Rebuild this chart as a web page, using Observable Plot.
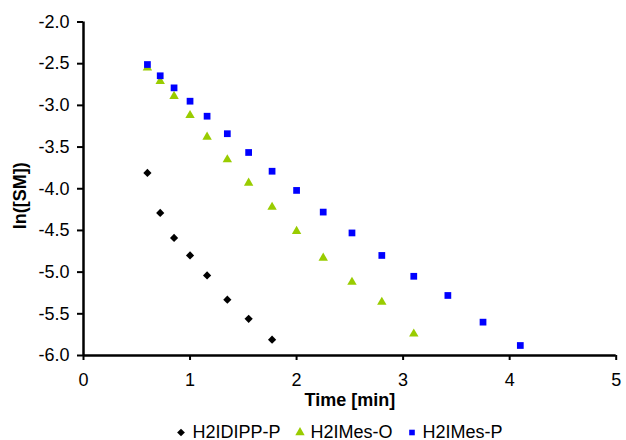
<!DOCTYPE html>
<html>
<head>
<meta charset="utf-8">
<script src="https://cdn.jsdelivr.net/npm/d3@7"></script>
<script src="https://cdn.jsdelivr.net/npm/@observablehq/plot@0.6"></script>
<style>
  html, body { margin: 0; padding: 0; background: #fff; }
  body { width: 626px; height: 440px; overflow: hidden; position: relative; font-family: "Liberation Sans", Arial, sans-serif; }
  #chart svg { display: block; }
  #legend { position: absolute; left: 0; top: 418px; width: 626px; box-sizing: border-box; display: flex; justify-content: center; align-items: center; height: 28px; padding-left: 53px; font-size: 18px; color: #000; }
  #legend .item { display: flex; align-items: center; margin: 0 7px; }
  #legend svg { margin-right: 6px; }
</style>
</head>
<body>
<div id="chart"></div>
<div id="legend"></div>
<script>
const seriesNames = ["H2IDIPP-P", "H2IMes-O", "H2IMes-P"];
const seriesColors = ["#000000", "#99CC00", "#0000FF"];
const seriesSymbols = ["diamond2", "triangle", "square"];

const timeDIPP = [0.60, 0.72, 0.85, 1.00, 1.16, 1.35, 1.55, 1.77];
const lnDIPP   = [-3.81, -4.29, -4.59, -4.80, -5.04, -5.33, -5.56, -5.81];

const timeMesO = [0.60, 0.72, 0.85, 1.00, 1.16, 1.35, 1.55, 1.77, 2.00, 2.25, 2.52, 2.80, 3.10];
const lnMesO   = [-2.55, -2.71, -2.89, -3.12, -3.38, -3.65, -3.93, -4.22, -4.51, -4.83, -5.12, -5.36, -5.74];

const timeMesP = [0.60, 0.72, 0.85, 1.00, 1.16, 1.35, 1.55, 1.77, 2.00, 2.25, 2.52, 2.80, 3.10, 3.42, 3.75, 4.10];
const lnMesP   = [-2.51, -2.645, -2.79, -2.95, -3.13, -3.34, -3.565, -3.79, -4.02, -4.28, -4.53, -4.80, -5.05, -5.28, -5.60, -5.88];

const xTicks = [0, 1, 2, 3, 4, 5];
const yTicks = [-2.0, -2.5, -3.0, -3.5, -4.0, -4.5, -5.0, -5.5, -6.0];
const xLabel = "Time [min]";
const yLabel = "ln([SM])";

const toRows = (ts, vs, name) => ts.map((t, i) => ({time: t, value: vs[i], series: name}));
const seriesData = [
  toRows(timeDIPP, lnDIPP, seriesNames[0]),
  toRows(timeMesO, lnMesO, seriesNames[1]),
  toRows(timeMesP, lnMesP, seriesNames[2])
];
const radii = [3.7, 3.5, 3.8];

const font = "Liberation Sans, Arial, sans-serif";
const chart = Plot.plot({
  width: 626,
  height: 410,
  marginLeft: 83,
  marginRight: 10.3,
  marginTop: 21.5,
  marginBottom: 55,
  style: {fontFamily: font, fontSize: "18px", color: "#000", background: "#fff"},
  x: {domain: [0, 5]},
  y: {domain: [-6, -2]},
  marks: [
    Plot.axisX({ticks: xTicks, tickFormat: d => String(d), tickSize: 5, tickPadding: 13, strokeWidth: 2, label: null, fontSize: 18}),
    Plot.axisY({ticks: yTicks, tickFormat: d => d.toFixed(1), tickSize: 6, tickPadding: 8, strokeWidth: 2, label: null, fontSize: 18}),
    Plot.ruleX([0], {stroke: "#000", strokeWidth: 2.5}),
    Plot.ruleY([-6], {stroke: "#000", strokeWidth: 2.5}),
    ...seriesData.map((rows, i) => Plot.dot(rows, {
      x: "time", y: "value", symbol: () => seriesSymbols[i], fill: seriesColors[i], stroke: "none", r: radii[i]
    })),
    Plot.text([xLabel], {frameAnchor: "bottom", dy: 45, fontWeight: "bold", fontSize: 18, lineAnchor: "middle", textAnchor: "middle"}),
    Plot.text([yLabel], {frameAnchor: "left", dx: -63.5, dy: 7, rotate: -90, fontWeight: "bold", fontSize: 18, lineAnchor: "middle", textAnchor: "middle"})
  ]
});
document.getElementById("chart").appendChild(chart);

const legend = document.getElementById("legend");
seriesNames.forEach((name, i) => {
  const item = document.createElement("div");
  item.className = "item";
  const s = d3.create("svg").attr("width", 10).attr("height", 10);
  s.append("path")
    .attr("transform", "translate(5,5.5)")
    .attr("d", d3.symbol(i === 0 ? d3.symbolDiamond2 : i === 1 ? d3.symbolTriangle : d3.symbolSquare2, i === 2 ? 40 : 38)())
    .attr("fill", seriesColors[i]);
  item.appendChild(s.node());
  const label = document.createElement("span");
  label.textContent = name;
  item.appendChild(label);
  legend.appendChild(item);
});
</script>
</body>
</html>
